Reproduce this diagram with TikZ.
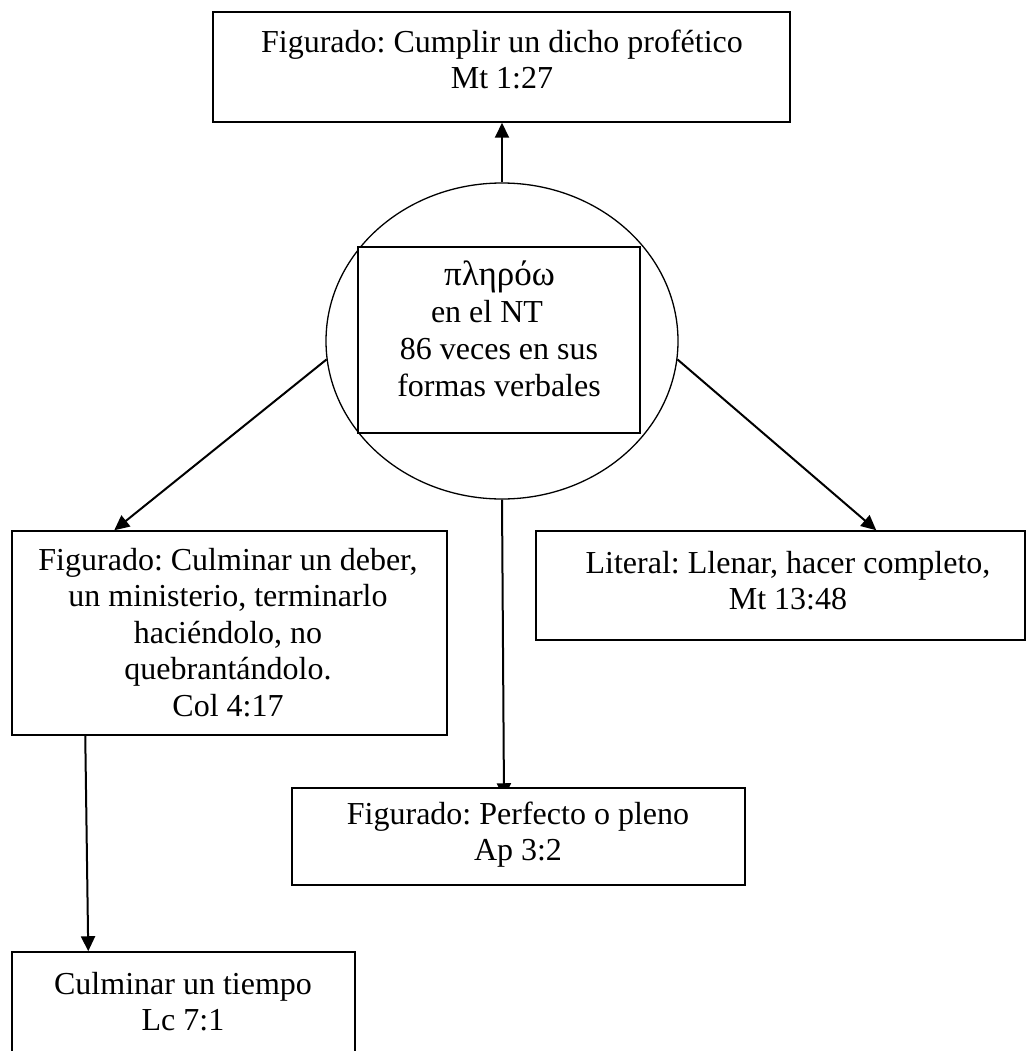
\documentclass[tikz,border=0pt]{standalone}
\usepackage{fontspec}
\setmainfont{Liberation Serif}
\frenchspacing
\usetikzlibrary{shapes.geometric,arrows.meta,calc,backgrounds}
\begin{document}
\begin{tikzpicture}[x=1pt,y=-1pt,
  box/.style={draw, line width=1.5pt, fill=white, inner sep=0pt},
  txt/.style={font=\fontsize{32}{36.5}\selectfont, align=center, anchor=north, inner sep=0pt},
  ln/.style={font=\fontsize{32}{36.5}\selectfont, anchor=base, inner sep=0pt},
  arr/.style={line width=2pt, -{Triangle[length=15pt,width=14pt]}}]
\useasboundingbox (0,0) rectangle (1027,1051);
\clip (0,0) rectangle (1027,1051);
% boxes
\node[box, minimum width=577pt, minimum height=110pt] (top) at (501.5,67) {};
\node[ellipse, draw, line width=1.3pt, minimum width=352pt, minimum height=316pt, inner sep=0pt] (ell) at (502,341) {};
\node[box, minimum width=282pt, minimum height=186pt] (inner) at (499,340) {};
\node[box, minimum width=435pt, minimum height=204pt] (lbox) at (229.5,633) {};
\node[box, minimum width=489pt, minimum height=109pt] (rbox) at (780.5,585.5) {};
\node[box, minimum width=453pt, minimum height=97pt] (perf) at (518.5,836.5) {};
\node[box, minimum width=343pt, minimum height=113pt] (bbox) at (183.5,1008.5) {};
% texts
\node[txt] (ttop) at (502,26.5) {\strut Figurado: Cumplir un dicho profético\\Mt 1:27};
\node[ln, anchor=base west, font=\fontsize{35}{36.5}\selectfont] (c1) at (444,285) {πληρόω};
\node[ln] (c2) at (487,322) {en el NT};
\node[ln] (c3) at (499,359) {86 veces en sus};
\node[ln] (c4) at (499,396) {formas verbales};
\node[txt] (tleft) at (228,544.5) {\strut Figurado: Culminar un deber,\\un ministerio, terminarlo\\haciéndolo, no\\quebrantándolo.\\Col 4:17};
\node[txt] (tright) at (788,547.5) {\strut Literal: Llenar, hacer completo,\\Mt 13:48};
\node[txt] (tperf) at (518,798.5) {\strut Figurado: Perfecto o pleno\\Ap 3:2};
\node[txt] (tbot) at (183,968.5) {\strut Culminar un tiempo\\Lc 7:1};
% connectors
\draw[arr] (ell.north) -- (ell.north |- top.south);
\coordinate (la) at ($(lbox.north west)+(103,0)$);
\draw[arr] (ell.186.5) -- (la);
\coordinate (ra) at ($(rbox.north west)+(341,0)$);
\draw[arr] (ell.-6.5) -- (ra);
\coordinate (pa) at ($(ell.south |- perf.north)+(2,11)$);
\begin{pgfonlayer}{background}
\draw[arr] (ell.south) -- (pa);
\end{pgfonlayer}
\coordinate (ls) at ($(lbox.south west)+(74,0)$);
\coordinate (bn) at ($(bbox.north west)+(77,0)$);
\draw[arr] (ls) -- (bn);
\end{tikzpicture}
\end{document}
